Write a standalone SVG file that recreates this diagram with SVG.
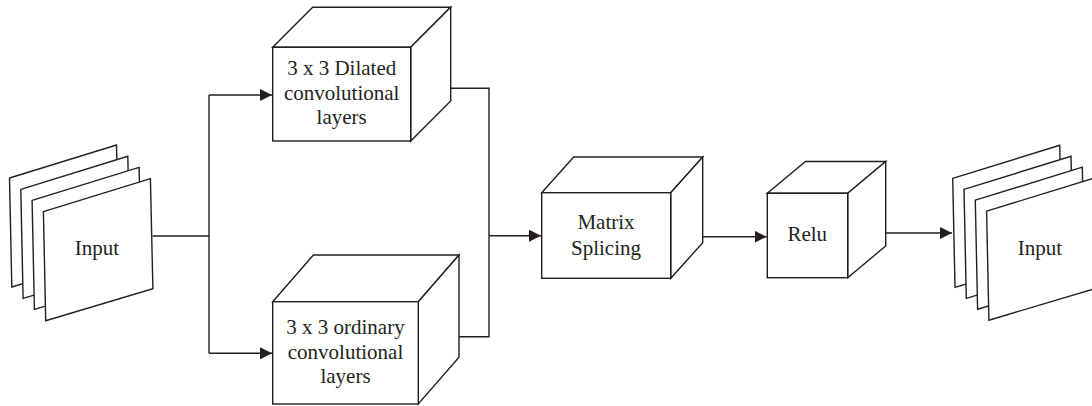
<svg xmlns="http://www.w3.org/2000/svg" width="1092" height="406" viewBox="0 0 1092 406">
<defs>
<style>
.s{fill:#fff;stroke:#231f20;stroke-width:1.4;stroke-linejoin:miter}
.c{fill:none;stroke:#231f20;stroke-width:1.4}
.t{font-family:"Liberation Serif",serif;font-size:21px;fill:#231f20;text-anchor:middle}
</style>
<marker id="ah" markerUnits="userSpaceOnUse" markerWidth="12" markerHeight="12" viewBox="0 0 12 12" refX="12" refY="6" orient="auto">
<path d="M0,0 L12,6 L0,12 Z" fill="#231f20"/>
</marker>
<path id="sheet" d="M0,0 L107,-33 L109.5,77 L2.3,109 Z"/>
</defs>
<rect width="1092" height="406" fill="#fff"/>
<g id="input-left">
<use href="#sheet" class="s" x="9.5" y="178"/>
<use href="#sheet" class="s" x="20.8" y="189.3"/>
<use href="#sheet" class="s" x="32.1" y="200.4"/>
<use href="#sheet" class="s" x="43.4" y="211.7"/>
<text class="t" x="97" y="255">Input</text>
</g>
<g id="dilated">
<path class="s" d="M272.7,47.3 L312.7,7.3 L450.7,7.3 L410.7,47.3 Z"/>
<path class="s" d="M410.7,47.3 L450.7,7.3 L450.7,101 L410.7,141 Z"/>
<rect class="s" x="272.7" y="47.3" width="138" height="93.7"/>
<text class="t" x="341.7" y="75">3 x 3 Dilated</text>
<text class="t" x="341.7" y="99.5">convolutional</text>
<text class="t" x="341.7" y="124">layers</text>
</g>
<g id="ordinary">
<path class="s" d="M272.7,301.7 L313.4,255 L459,255 L418.3,301.7 Z"/>
<path class="s" d="M418.3,301.7 L459,255 L459,357.3 L418.3,404 Z"/>
<rect class="s" x="272.7" y="301.7" width="145.6" height="102.3"/>
<text class="t" x="345.5" y="334">3 x 3 ordinary</text>
<text class="t" x="345.5" y="358.5">convolutional</text>
<text class="t" x="345.5" y="383">layers</text>
</g>
<g id="matrix">
<path class="s" d="M541.7,192.7 L573.7,157 L702.7,157 L670.7,192.7 Z"/>
<path class="s" d="M670.7,192.7 L702.7,157 L702.7,242.7 L670.7,278.3 Z"/>
<rect class="s" x="541.7" y="192.7" width="129" height="85.6"/>
<text class="t" x="606" y="228.5">Matrix</text>
<text class="t" x="606" y="255">Splicing</text>
</g>
<g id="relu">
<path class="s" d="M767.3,193.3 L805.5,161.5 L885.7,161.5 L847.7,193.3 Z"/>
<path class="s" d="M847.7,193.3 L885.7,161.5 L885.7,246 L847.7,277.7 Z"/>
<rect class="s" x="767.3" y="193.3" width="80.4" height="84.4"/>
<text class="t" x="807.3" y="241">Relu</text>
</g>
<g id="input-right">
<use href="#sheet" class="s" x="952.7" y="178.3"/>
<use href="#sheet" class="s" x="964" y="189.3"/>
<use href="#sheet" class="s" x="975.3" y="200.2"/>
<use href="#sheet" class="s" x="986.6" y="211.2"/>
<text class="t" x="1040" y="255">Input</text>
</g>
<g id="connectors">
<path class="c" d="M152.5,236 H209"/>
<path class="c" d="M209,95 V353.3"/>
<path class="c" d="M209,95 H272" marker-end="url(#ah)"/>
<path class="c" d="M209,353.3 H272" marker-end="url(#ah)"/>
<path class="c" d="M450.7,88.3 H489 V336.7 H459"/>
<path class="c" d="M489,235.7 H541" marker-end="url(#ah)"/>
<path class="c" d="M702.7,236.7 H766.6" marker-end="url(#ah)"/>
<path class="c" d="M885.7,233 H952" marker-end="url(#ah)"/>
</g>
</svg>
